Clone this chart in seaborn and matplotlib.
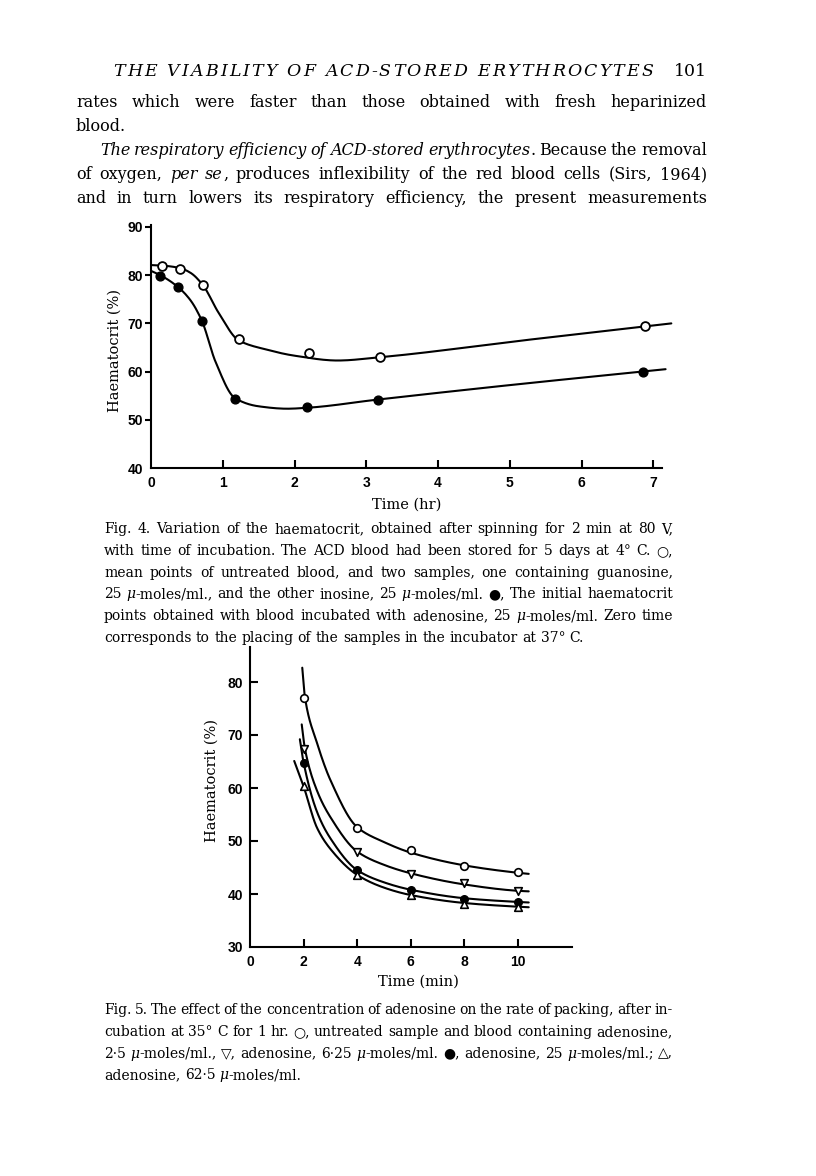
import numpy as np
import matplotlib
matplotlib.use("Agg")
import matplotlib.pyplot as plt
import seaborn as sns

# ---- Fig. 4 : haematocrit vs time of incubation (hr) ----
fig4_t_open = [0.15, 0.40, 0.72, 1.22, 2.20, 3.19, 6.88]
fig4_hct_open = [81.9, 81.3, 77.9, 66.7, 63.9, 63.0, 69.5]
fig4_t_filled = [0.13, 0.38, 0.71, 1.17, 2.18, 3.16, 6.86]
fig4_hct_filled = [79.9, 77.5, 70.5, 54.3, 52.6, 54.2, 59.9]
# hand-drawn smooth curves (knots)
fig4_curve_open_t = [0.0, 0.15, 0.40, 0.55, 0.72, 0.95, 1.22, 1.6, 2.0, 2.6, 3.2, 5.2, 7.25]
fig4_curve_open_hct = [82.1, 82.0, 81.5, 80.5, 78.0, 72.0, 66.5, 64.6, 63.3, 62.3, 63.0, 66.5, 70.0]
fig4_curve_filled_t = [0.0, 0.13, 0.38, 0.55, 0.71, 0.9, 1.17, 1.5, 1.9, 2.18, 3.16, 5.0, 7.17]
fig4_curve_filled_hct = [80.9, 80.0, 77.5, 74.8, 70.5, 62.0, 54.5, 52.8, 52.3, 52.5, 54.2, 57.2, 60.5]
fig4_xticks = [0, 1, 2, 3, 4, 5, 6, 7]
fig4_yticks = [40, 50, 60, 70, 80, 90]

# ---- Fig. 5 : haematocrit vs time of spinning (min) ----
fig5_t = [2, 4, 6, 8, 10]
fig5_hct_untreated = [77.0, 52.4, 48.3, 45.3, 44.1]
fig5_hct_ado_6_25 = [67.4, 47.9, 43.8, 42.0, 40.6]
fig5_hct_ado_25 = [64.7, 44.5, 40.8, 39.1, 38.5]
fig5_hct_ado_62_5 = [60.3, 43.5, 39.8, 38.2, 37.6]
fig5_curve_untreated_t = [1.95, 2.05, 2.5, 3, 4, 5, 6, 8, 10, 10.4]
fig5_curve_untreated = [82.7, 77.1, 68.5, 61.5, 52.6, 49.8, 47.8, 45.4, 44.0, 43.8]
fig5_curve_6_25_t = [1.93, 2.05, 2.5, 3, 4, 5, 6, 8, 10, 10.4]
fig5_curve_6_25 = [72.0, 67.4, 59.5, 54.5, 48.0, 45.5, 43.9, 41.8, 40.6, 40.5]
fig5_curve_25_t = [1.86, 2.0, 2.5, 3, 4, 5, 6, 8, 10, 10.4]
fig5_curve_25 = [69.2, 64.8, 55.5, 50.5, 44.5, 42.2, 40.8, 39.2, 38.5, 38.4]
fig5_curve_62_5_t = [1.65, 2.0, 2.5, 3, 4, 5, 6, 8, 10, 10.4]
fig5_curve_62_5 = [65.1, 60.3, 52.5, 48.5, 43.6, 41.2, 39.8, 38.3, 37.6, 37.5]
fig5_xticks = [0, 2, 4, 6, 8, 10]
fig5_yticks = [30, 40, 50, 60, 70, 80]

header = "THE VIABILITY OF ACD-STORED ERYTHROCYTES"
page_no = "101"
body = [
    "rates which were faster than those obtained with fresh heparinized",
    "blood.",
    "*The respiratory efficiency of ACD-stored erythrocytes*. Because the removal",
    "of oxygen, *per se*, produces inflexibility of the red blood cells (Sirs, 1964)",
    "and in turn lowers its respiratory efficiency, the present measurements",
]
caption4 = [
    "Fig. 4. Variation of the haematocrit, obtained after spinning for 2 min at 80 V,",
    "with time of incubation. The ACD blood had been stored for 5 days at 4° C. ○,",
    "mean points of untreated blood, and two samples, one containing guanosine,",
    "25 *μ*-moles/ml., and the other inosine, 25 *μ*-moles/ml. ●, The initial haematocrit",
    "points obtained with blood incubated with adenosine, 25 *μ*-moles/ml. Zero time",
    "corresponds to the placing of the samples in the incubator at 37° C.",
]
caption5 = [
    "Fig. 5. The effect of the concentration of adenosine on the rate of packing, after in-",
    "cubation at 35° C for 1 hr. ○, untreated sample and blood containing adenosine,",
    "2·5 *μ*-moles/ml., ▽, adenosine, 6·25 *μ*-moles/ml. ●, adenosine, 25 *μ*-moles/ml.; △,",
    "adenosine, 62·5 *μ*-moles/ml.",
]

sns.set_style("ticks")
SERIF = ["DejaVu Serif", "DejaVu Sans"]
TICKFONT = {"family": ["Liberation Sans", "DejaVu Sans"], "weight": "bold", "size": 10}
plt.rcParams["font.family"] = SERIF
plt.rcParams["text.color"] = "black"
plt.rcParams["axes.labelcolor"] = "black"

W, H = 816, 1176
fig = plt.figure(figsize=(W / 100, H / 100), dpi=100)
fig.patch.set_facecolor("white")
renderer = fig.canvas.get_renderer()


def smooth(xk, yk, n=300):
    # monotone piecewise cubic through the knots (PCHIP)
    x = np.asarray(xk, float)
    y = np.asarray(yk, float)
    h = np.diff(x)
    d = np.diff(y) / h
    m = np.zeros_like(y)
    m[0], m[-1] = d[0], d[-1]
    for k in range(1, len(x) - 1):
        if d[k - 1] * d[k] > 0:
            w1 = 2 * h[k] + h[k - 1]
            w2 = h[k] + 2 * h[k - 1]
            m[k] = (w1 + w2) / (w1 / d[k - 1] + w2 / d[k])
    xs = np.linspace(x[0], x[-1], n)
    i = np.clip(np.searchsorted(x, xs) - 1, 0, len(h) - 1)
    t = (xs - x[i]) / h[i]
    ys = ((2 * t**3 - 3 * t**2 + 1) * y[i] + (t**3 - 2 * t**2 + t) * h[i] * m[i]
          + (-2 * t**3 + 3 * t**2) * y[i + 1] + (t**3 - t**2) * h[i] * m[i + 1])
    return xs, ys


def text_w(s, size, style="normal"):
    t = fig.text(0, 0, s, fontsize=size, family=SERIF, style=style)
    w = t.get_window_extent(renderer).width
    t.remove()
    return w


def space_w(size):
    return text_w("a a", size) - text_w("aa", size)


def parse(line):
    words, italic = [], False
    for word in line.split(" "):
        runs = []
        for i, part in enumerate(word.split("*")):
            if i > 0:
                italic = not italic
            if part:
                runs.append((part, "italic" if italic else "normal"))
        words.append(runs)
    return words


def block_size(lines, widths, base, min_space=0.75):
    # one font size for a whole block: largest that lets every line fit
    size = base
    for line, width in zip(lines, widths):
        words = parse(line)
        need = (sum(text_w(s, base, st) for runs in words for s, st in runs)
                + min_space * space_w(base) * (len(words) - 1))
        size = min(size, base * width / need)
    return size


def draw_line(line, y, x0, x1, size, justify=True):
    words = parse(line)
    widths = [[text_w(s, size, st) for s, st in runs] for runs in words]
    total = sum(sum(w) for w in widths)
    if justify and len(words) > 1:
        gap = (x1 - x0 - total) / (len(words) - 1)
    else:
        gap = space_w(size)
    x = x0
    for runs, ws in zip(words, widths):
        for (s, st), w in zip(runs, ws):
            fig.text(x / W, 1 - y / H, s, fontsize=size, family=SERIF, style=st,
                     ha="left", va="baseline", color="black")
            x += w
        x += gap


def draw_spaced(text, y, x0, x1, size, style):
    ws = [text_w(c, size, style) if c != " " else space_w(size) for c in text]
    gap = (x1 - x0 - sum(ws)) / (len(text) - 1)
    x = x0
    for c, w in zip(text, ws):
        if c != " ":
            fig.text(x / W, 1 - y / H, c, fontsize=size, family=SERIF, style=style,
                     ha="left", va="baseline", color="black")
        x += w + gap


# ---- running head and body text ----
draw_spaced(header, 76, 113, 653, 12.5, "italic")
fig.text(707 / W, 1 - 76 / H, page_no, fontsize=12.5, family=SERIF, ha="right",
         va="baseline", color="black")

BODY_L, BODY_R, INDENT = 76, 707, 24
body_just = [0, 2, 3, 4]
body_fs = block_size([body[k] for k in body_just],
                     [BODY_R - BODY_L - (INDENT if k == 2 else 0) for k in body_just], 12.8)
body_y = [107, 131, 155, 179, 203]
for k, line in enumerate(body):
    x0 = BODY_L + (INDENT if k == 2 else 0)
    draw_line(line, body_y[k], x0, BODY_R, body_fs, justify=(k != 1))

CAP_L, CAP_R = 104, 673
cap_just = caption4[:-1] + caption5[:-1]
cap_fs = block_size(cap_just, [CAP_R - CAP_L] * len(cap_just), 10.2)
for k, line in enumerate(caption4):
    draw_line(line, 533 + 21.8 * k, CAP_L, CAP_R, cap_fs, justify=(k < len(caption4) - 1))
for k, line in enumerate(caption5):
    draw_line(line, 1014 + 21.8 * k, CAP_L, CAP_R, cap_fs, justify=(k < len(caption5) - 1))


def style_axes(ax, xticks, yticks):
    sns.despine(ax=ax)
    for sp in ("left", "bottom"):
        ax.spines[sp].set_linewidth(1.5)
        ax.spines[sp].set_color("black")
    ax.set_xticks(xticks)
    ax.set_yticks(yticks)
    ax.set_xticklabels([str(v) for v in xticks], fontdict=TICKFONT)
    ax.set_yticklabels([str(v) for v in yticks], fontdict=TICKFONT)
    ax.xaxis.get_major_ticks()[0].tick1line.set_visible(False)
    ax.yaxis.get_major_ticks()[0].tick1line.set_visible(False)
    ax.set_facecolor("none")
    ax.grid(False)


def curve(ax, xk, yk):
    xs, ys = smooth(xk, yk)
    sns.lineplot(x=xs, y=ys, ax=ax, color="black", linewidth=1.5, sort=False,
                 estimator=None, clip_on=False)


# ---- Fig. 4 ----
ax4 = fig.add_axes([151 / W, 1 - 468 / H, 511 / W, 243 / H])
ax4.set_xlim(0, 7.12)
ax4.set_ylim(40, 40 + 243 / 4.82)
curve(ax4, fig4_curve_open_t, fig4_curve_open_hct)
curve(ax4, fig4_curve_filled_t, fig4_curve_filled_hct)
sns.scatterplot(x=fig4_t_open, y=fig4_hct_open, ax=ax4, marker="o", s=40, color="white",
                edgecolor="black", linewidth=1.3, zorder=3, clip_on=False)
sns.scatterplot(x=fig4_t_filled, y=fig4_hct_filled, ax=ax4, marker="o", s=40, color="black",
                edgecolor="black", linewidth=1.0, zorder=3, clip_on=False)
style_axes(ax4, fig4_xticks, fig4_yticks)
ax4.tick_params(axis="x", direction="in", length=6, width=1.5, pad=6, colors="black")
ax4.tick_params(axis="y", direction="out", length=4, width=1.5, pad=1.5, colors="black")
ax4.set_xlabel("Time (hr)", fontsize=10.5, family=SERIF, va="center")
ax4.set_ylabel("Haematocrit (%)", fontsize=10.5, family=SERIF, va="center")
ax4.xaxis.set_label_coords((407 - 151) / 511, (468 - 505) / 243)
ax4.yaxis.set_label_coords((115 - 151) / 511, (468 - 350) / 243)

# ---- Fig. 5 ----
ax5 = fig.add_axes([250 / W, 1 - 947 / H, 322 / W, 300 / H])
ax5.set_xlim(0, 322 / 26.8)
ax5.set_ylim(30, 30 + 300 / 5.3)
for ct, cy in [(fig5_curve_untreated_t, fig5_curve_untreated),
               (fig5_curve_6_25_t, fig5_curve_6_25),
               (fig5_curve_25_t, fig5_curve_25),
               (fig5_curve_62_5_t, fig5_curve_62_5)]:
    curve(ax5, ct, cy)
sns.scatterplot(x=fig5_t, y=fig5_hct_untreated, ax=ax5, marker="o", s=30, color="white",
                edgecolor="black", linewidth=1.2, zorder=3)
sns.scatterplot(x=fig5_t, y=fig5_hct_ado_6_25, ax=ax5, marker="v", s=30, color="white",
                edgecolor="black", linewidth=1.2, zorder=3)
sns.scatterplot(x=fig5_t, y=fig5_hct_ado_25, ax=ax5, marker="o", s=30, color="black",
                edgecolor="black", linewidth=1.0, zorder=3)
sns.scatterplot(x=fig5_t, y=fig5_hct_ado_62_5, ax=ax5, marker="^", s=30, color="white",
                edgecolor="black", linewidth=1.2, zorder=3)
style_axes(ax5, fig5_xticks, fig5_yticks)
ax5.tick_params(axis="both", direction="in", length=6, width=1.5, colors="black")
ax5.tick_params(axis="x", pad=6)
ax5.tick_params(axis="y", pad=5)
ax5.set_xlabel("Time (min)", fontsize=10.5, family=SERIF, va="center")
ax5.set_ylabel("Haematocrit (%)", fontsize=10.5, family=SERIF, va="center")
ax5.xaxis.set_label_coords((418 - 250) / 322, (947 - 982) / 300)
ax5.yaxis.set_label_coords((212 - 250) / 322, (947 - 781) / 300)

fig.savefig("out.png", dpi=100, facecolor="white")
